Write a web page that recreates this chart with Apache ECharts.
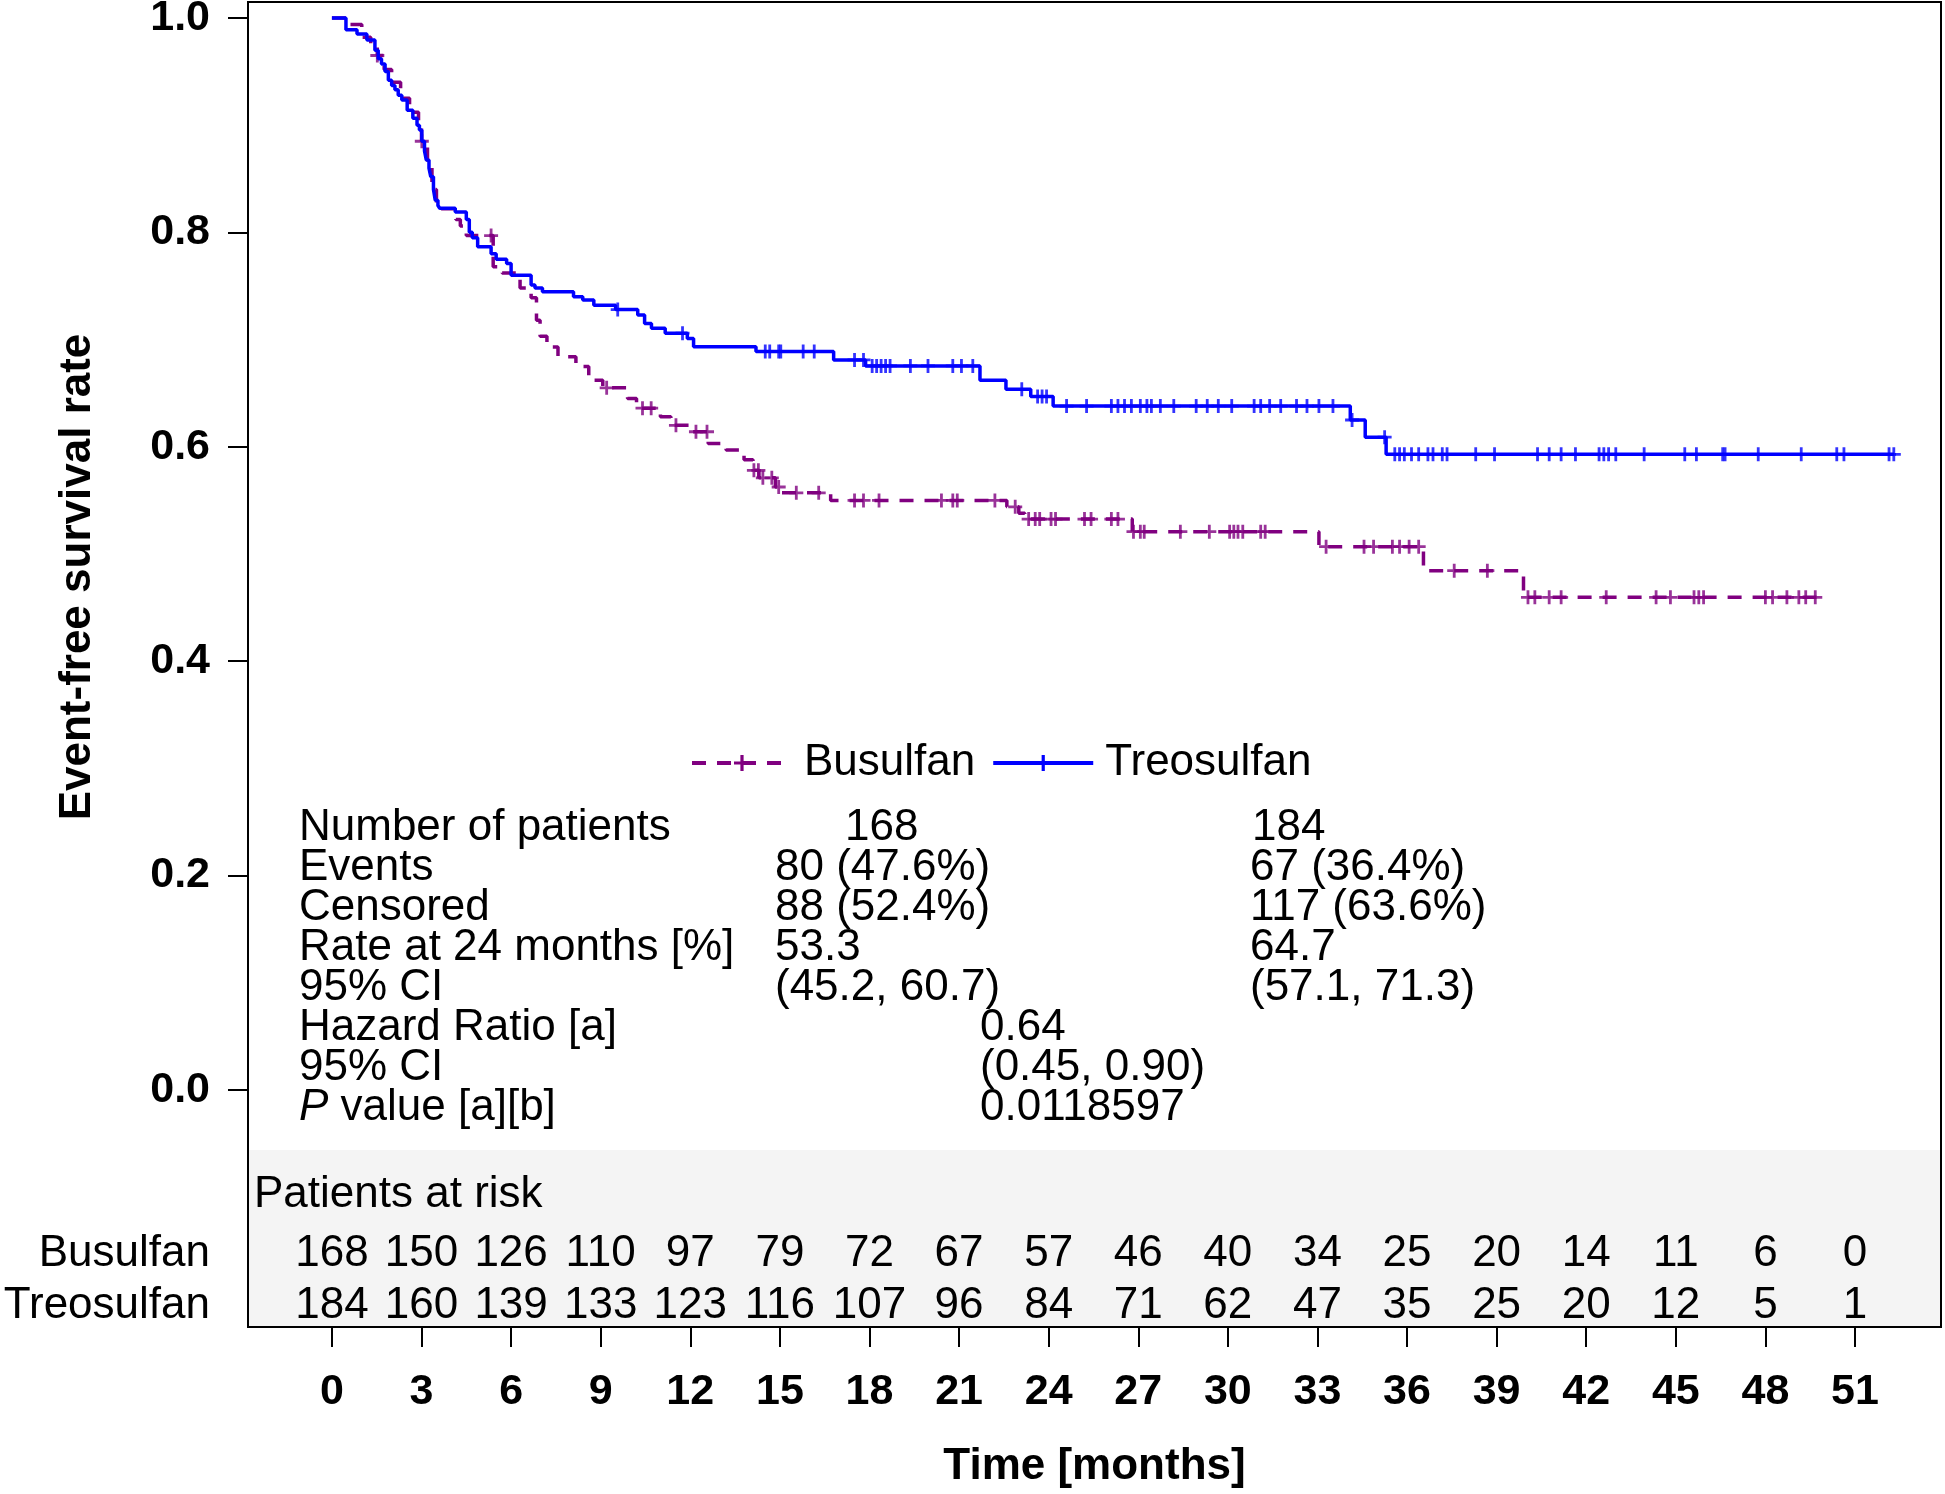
<!DOCTYPE html>
<html>
<head>
<meta charset="utf-8">
<script src="https://cdn.jsdelivr.net/npm/echarts@6/dist/echarts.min.js"></script>
<style>
html, body { margin: 0; padding: 0; background: #fff; }
#chart { width: 1945px; height: 1494px; }
</style>
</head>
<body>
<div id="chart"></div>
<script>
// Kaplan-Meier steps: time in months, survival right after that time
var busuTime = [0, 0.6, 1.0, 1.3, 1.52, 1.75, 2.0, 2.3, 2.6, 2.9, 3.0, 3.2, 3.35, 3.5, 4.15, 4.3, 4.5,
    5.4, 5.7, 6.3, 6.67, 6.85, 6.97, 7.2, 7.57, 8.17, 8.6, 9.07, 9.9, 10.2, 11.0, 11.35, 12.0, 12.6,
    13.2, 13.8, 14.1, 14.3, 14.85, 15.0, 16.7, 22.6, 23.0, 23.2, 26.8, 33.05, 36.55, 39.9, 49.75];
var busuSurv = [1.0, 0.994, 0.982, 0.976, 0.965, 0.952, 0.94, 0.925, 0.912, 0.9, 0.885, 0.862, 0.84, 0.822, 0.812, 0.806, 0.797,
    0.768, 0.762, 0.748, 0.739, 0.718, 0.703, 0.693, 0.684, 0.675, 0.662, 0.655, 0.645, 0.636, 0.628, 0.62, 0.614, 0.603,
    0.597, 0.588, 0.578, 0.571, 0.5625, 0.557, 0.55, 0.544, 0.538, 0.5326, 0.5208, 0.5068, 0.4844, 0.4596, 0.4596];

var treoTime = [0, 0.47, 0.84, 1.17, 1.44, 1.55, 1.66, 1.78, 1.89, 2.0, 2.11, 2.22, 2.34, 2.52, 2.71, 2.85, 2.93,
    3.01, 3.1, 3.16, 3.25, 3.31, 3.4, 3.46, 3.55, 3.61, 4.13, 4.5, 4.6, 4.7, 4.88, 5.33, 5.5, 5.85, 6.0,
    6.67, 6.8, 7.05, 8.09, 8.4, 8.77, 9.5, 10.24, 10.47, 10.7, 11.16, 11.9, 12.11, 14.2, 16.8, 17.87,
    21.7, 22.57, 23.4, 24.15, 34.1, 34.6, 35.3, 52.3];
var treoSurv = [1.0, 0.989, 0.985, 0.9795, 0.97, 0.962, 0.957, 0.95, 0.942, 0.937, 0.933, 0.928, 0.9235, 0.914, 0.9064, 0.9, 0.8955,
    0.885, 0.876, 0.8675, 0.86, 0.852, 0.84, 0.83, 0.825, 0.8225, 0.819, 0.812, 0.8, 0.795, 0.7867, 0.78, 0.775, 0.771, 0.76,
    0.751, 0.748, 0.7447, 0.74, 0.737, 0.732, 0.728, 0.723, 0.715, 0.7105, 0.706, 0.701, 0.6934, 0.6888, 0.681, 0.6754,
    0.662, 0.6536, 0.6468, 0.638, 0.625, 0.609, 0.593, 0.593];

// censoring times
var busuCensor = [1.52, 3.01, 5.33, 9.2, 10.4, 10.69, 11.52, 12.19, 12.56, 14.13, 14.28, 14.43, 14.73, 14.96, 15.55, 16.3,
    17.5, 17.8, 18.32, 20.41, 20.79, 20.94, 22.2, 22.88, 23.33, 23.55, 23.7, 24.08, 24.23, 25.2, 25.42, 26.1, 26.32,
    26.84, 27.07, 27.2, 28.41, 29.38, 30.06, 30.2, 30.34, 30.5, 31.1, 31.25, 33.29, 34.56, 34.88, 35.51, 35.75, 36.07,
    36.39, 37.58, 38.69, 40.05, 40.28, 40.76, 41.16, 42.67, 44.34, 44.82, 45.61, 45.77, 45.93, 48.0, 48.24, 48.72,
    49.12, 49.35, 49.67];
var treoCensor = [9.57, 11.74, 14.51, 14.66, 14.96, 15.03, 15.78, 16.15, 17.5, 17.8, 18.09, 18.24, 18.39, 18.54, 18.69,
    19.37, 19.96, 20.79, 21.08, 21.46, 23.1, 23.63, 23.78, 23.93, 24.6, 25.27, 26.1, 26.32, 26.54, 26.77, 27.07, 27.29,
    27.44, 27.74, 28.19, 28.94, 29.31, 29.68, 30.13, 30.88, 31.1, 31.4, 31.77, 32.3, 32.65, 33.05, 33.52, 34.16, 35.25,
    35.59, 35.75, 35.91, 36.15, 36.39, 36.7, 36.87, 37.18, 37.34, 38.3, 38.93, 40.37, 40.76, 41.16, 41.64, 42.43, 42.59,
    42.75, 42.99, 43.94, 45.3, 45.69, 46.57, 46.65, 47.76, 49.2, 50.39, 50.63, 52.14, 52.3];

// patients at risk
var riskTime = [0, 3, 6, 9, 12, 15, 18, 21, 24, 27, 30, 33, 36, 39, 42, 45, 48, 51];
var busuRisk = [168, 150, 126, 110, 97, 79, 72, 67, 57, 46, 40, 34, 25, 20, 14, 11, 6, 0];
var treoRisk = [184, 160, 139, 133, 123, 116, 107, 96, 84, 71, 62, 47, 35, 25, 20, 12, 5, 1];

var yTicks = [0, 0.2, 0.4, 0.6, 0.8, 1.0];

// summary table
var statLabels = ['Number of patients', 'Events', 'Censored', 'Rate at 24 months [%]', '95% CI',
    'Hazard Ratio [a]', '95% CI', '{i|P} value [a][b]'];
var busuStats = ['168', '80 (47.6%)', '88 (52.4%)', '53.3', '(45.2, 60.7)'];
var treoStats = ['184', '67 (36.4%)', '117 (63.6%)', '64.7', '(57.1, 71.3)'];
var hrStats = ['0.64', '(0.45, 0.90)', '0.0118597'];

var FONT = '"Liberation Sans", Arial, sans-serif';
var PURPLE = '#800080', BLUE = '#0000ff';
var PLUS = 'path://M4,0L6,0L6,4L10,4L10,6L6,6L6,10L4,10L4,6L0,6L0,4L4,4Z';
var X_MIN = -2.81, X_MAX = 53.88, Y_MIN = -0.2211, Y_MAX = 1.0149;

function zip(xs, ys) {
    return xs.map(function (x, i) { return [x, ys[i]]; });
}
function survAt(times, surv, t) {
    var s = surv[0];
    for (var i = 0; i < times.length; i++) {
        if (times[i] <= t) s = surv[i];
    }
    return s;
}
function censorPoints(c, times, surv) {
    return c.map(function (t) { return [t, survAt(times, surv, t)]; });
}
function riskPoints(counts, rowY) {
    return riskTime.map(function (t, i) { return [t, rowY, counts[i]]; });
}
// numbers of the risk table, placed through the axes
function renderRisk(params, api) {
    var pt = api.coord([api.value(0), api.value(1)]);
    return {
        type: 'text', x: pt[0], y: pt[1],
        style: {
            text: String(api.value(2)), fill: '#000', fontFamily: FONT, fontSize: 44,
            align: 'center', verticalAlign: 'middle'
        }
    };
}

var chart = echarts.init(document.getElementById('chart'));

// text block
var graphics = [];
function txt(x, y, s, opt) {
    opt = opt || {};
    graphics.push({
        type: 'text', x: x, y: y, rotation: opt.rotation || 0, silent: true, z: 100,
        style: {
            text: s, fill: '#000', fontFamily: FONT, fontSize: opt.size || 44,
            fontWeight: opt.weight || 'normal', align: opt.align || 'left', verticalAlign: 'middle',
            rich: { i: { fontStyle: 'italic', fontFamily: FONT, fontSize: 44 } }
        }
    });
}
txt(78, 577, 'Event-free survival rate', { rotation: Math.PI / 2, weight: 'bold', align: 'center' });
statLabels.forEach(function (s, i) { txt(299, 828 + 40 * i, s); });
busuStats.forEach(function (s, i) { txt(i === 0 ? 845 : 775, 828 + 40 * i, s); });
treoStats.forEach(function (s, i) { txt(i === 0 ? 1252 : 1250, 828 + 40 * i, s); });
hrStats.forEach(function (s, i) { txt(980, 1028 + 40 * i, s); });
txt(254, 1195, 'Patients at risk');
txt(210, 1254, 'Busulfan', { align: 'right' });
txt(210, 1306, 'Treosulfan', { align: 'right' });

var option = {
    backgroundColor: '#fff',
    animation: false,
    grid: {
        left: 248, top: 2, width: 1693, height: 1325,
        show: true, borderColor: '#000', borderWidth: 2, backgroundColor: 'transparent',
        outerBoundsMode: 'none'
    },
    legend: {
        data: ['Busulfan', 'Treosulfan'],
        left: 685, top: 736,
        itemWidth: 100, itemHeight: 20, itemGap: 16,
        lineStyle: { width: 4 },
        textStyle: { fontFamily: FONT, fontSize: 44, color: '#000', lineHeight: 44, padding: [0, 0, 0, 7] }
    },
    xAxis: {
        type: 'value', min: X_MIN, max: X_MAX,
        axisLine: { show: false, onZero: false },
        axisTick: { show: true, customValues: riskTime, length: 20, lineStyle: { color: '#000', width: 2 } },
        axisLabel: {
            customValues: riskTime, margin: 44, color: '#000',
            fontFamily: FONT, fontSize: 43, fontWeight: 'bold'
        },
        splitLine: { show: false },
        name: 'Time [months]', nameLocation: 'middle', nameGap: 118,
        nameTextStyle: { fontFamily: FONT, fontSize: 44, fontWeight: 'bold', color: '#000' }
    },
    yAxis: {
        type: 'value', min: Y_MIN, max: Y_MAX,
        axisLine: { show: false, onZero: false },
        axisTick: { show: true, customValues: yTicks, length: 20, lineStyle: { color: '#000', width: 2 } },
        axisLabel: {
            customValues: yTicks, margin: 38, color: '#000',
            fontFamily: FONT, fontSize: 43, fontWeight: 'bold',
            formatter: function (v) { return v.toFixed(1); }
        },
        splitLine: { show: false }
    },
    series: [{
        name: 'Busulfan', type: 'line', step: 'end',
        data: zip(busuTime, busuSurv),
        symbol: PLUS, showSymbol: false, color: PURPLE,
        lineStyle: { color: PURPLE, width: 3.5, type: [14, 11] },
        z: 3
    }, {
        name: 'Treosulfan', type: 'line', step: 'end',
        data: zip(treoTime, treoSurv),
        symbol: PLUS, showSymbol: false, color: BLUE,
        lineStyle: { color: BLUE, width: 3.5 },
        z: 4
    }, {
        name: 'Busulfan censored', type: 'scatter', silent: true,
        data: censorPoints(busuCensor, busuTime, busuSurv),
        symbol: PLUS, symbolSize: 14, itemStyle: { color: PURPLE, opacity: 0.8 }, z: 3
    }, {
        name: 'Treosulfan censored', type: 'scatter', silent: true,
        data: censorPoints(treoCensor, treoTime, treoSurv),
        symbol: PLUS, symbolSize: 14, itemStyle: { color: BLUE, opacity: 0.8 }, z: 4
    }, {
        name: 'Busulfan at risk', type: 'custom', silent: true,
        data: riskPoints(busuRisk, -0.153),
        renderItem: renderRisk,
        markArea: {
            silent: true, z: -1,
            itemStyle: { color: '#f4f4f4' },
            data: [[{ xAxis: X_MIN, yAxis: Y_MIN }, { xAxis: X_MAX, yAxis: -0.056 }]]
        },
        z: 5
    }, {
        name: 'Treosulfan at risk', type: 'custom', silent: true,
        data: riskPoints(treoRisk, -0.2015),
        renderItem: renderRisk,
        z: 5
    }],
    graphic: graphics
};
chart.setOption(option);
</script>
</body>
</html>
